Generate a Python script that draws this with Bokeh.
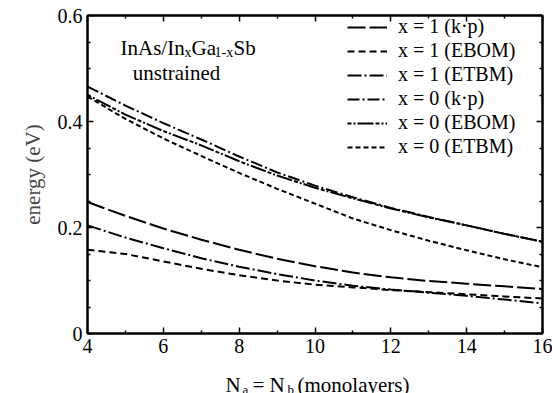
from bokeh.plotting import figure
from bokeh.layouts import column
from bokeh.models import (Range1d, LinearAxis, FixedTicker, CustomJSTickFormatter,
                          Label)
from bokeh.embed import file_html
from bokeh.resources import INLINE

# ---------------- data ----------------
N = [4, 5, 6, 7, 8, 9, 10, 11, 12, 13, 14, 15, 16]
x1_kp   = [0.248, 0.222, 0.198, 0.177, 0.158, 0.141, 0.127, 0.115, 0.106, 0.099, 0.094, 0.089, 0.084]
x1_ebom = [0.158, 0.150, 0.136, 0.122, 0.110, 0.100, 0.092, 0.087, 0.082, 0.078, 0.074, 0.070, 0.066]
x1_etbm = [0.204, 0.181, 0.161, 0.142, 0.126, 0.112, 0.100, 0.090, 0.083, 0.077, 0.071, 0.064, 0.057]
x0_kp   = [0.466, 0.430, 0.397, 0.366, 0.334, 0.304, 0.279, 0.257, 0.237, 0.220, 0.204, 0.188, 0.173]
x0_ebom = [0.450, 0.413, 0.382, 0.355, 0.325, 0.298, 0.275, 0.255, 0.236, 0.219, 0.204, 0.188, 0.173]
x0_etbm = [0.447, 0.405, 0.368, 0.335, 0.303, 0.273, 0.245, 0.217, 0.195, 0.175, 0.157, 0.140, 0.125]

series = [
    ("x = 1 (k\u00b7p)", x1_kp, "18 4"),
    ("x = 1 (EBOM)", x1_ebom, "7 4"),
    ("x = 1 (ETBM)", x1_etbm, "14 3 2 3"),
    ("x = 0 (k\u00b7p)", x0_kp, "12 3 2 3"),
    ("x = 0 (EBOM)", x0_ebom, "4 2 2 2 16 2"),
    ("x = 0 (ETBM)", x0_etbm, "5 3"),
]

x_ticks = [4, 6, 8, 10, 12, 14, 16]
x_minor = [5, 7, 9, 11, 13, 15]
y_ticks = [0, 0.2, 0.4, 0.6]
y_minor = [0.05, 0.1, 0.15, 0.25, 0.3, 0.35, 0.45, 0.5, 0.55]

FONT = "Liberation Serif"

p = figure(width=552, height=365, output_backend="svg", toolbar_location=None,
           x_range=Range1d(4, 16), y_range=Range1d(0, 0.6),
           min_border_left=87, min_border_right=10, min_border_top=15,
           min_border_bottom=32)
p.xgrid.visible = False
p.ygrid.visible = False
p.outline_line_color = "black"
p.outline_line_width = 2
p.background_fill_color = "white"
p.border_fill_color = "white"

for label, ys, dash in series:
    p.line(N, ys, line_color="black", line_width=2, line_dash=dash, legend_label=label)

ytick_fmt = CustomJSTickFormatter(code="return tick == 0 ? '0' : tick.toFixed(1);")
blank_fmt = CustomJSTickFormatter(code="return '';")

def style_axis(ax, ticks, minor, show_labels):
    ax.ticker = FixedTicker(ticks=ticks, minor_ticks=minor)
    ax.axis_line_width = 2
    ax.axis_line_color = "black"
    ax.major_tick_in = 6
    ax.major_tick_out = 0
    ax.minor_tick_in = 3
    ax.minor_tick_out = 0
    ax.major_tick_line_width = 1.5
    ax.minor_tick_line_width = 1.5
    ax.major_label_text_font = FONT
    ax.major_label_text_color = "black"
    ax.major_label_text_font_size = "20px"
    if show_labels:
        ax.major_label_standoff = 5
    else:
        ax.formatter = blank_fmt
        ax.major_label_standoff = 0

style_axis(p.xaxis[0], x_ticks, x_minor, True)
style_axis(p.yaxis[0], y_ticks, y_minor, True)
p.yaxis[0].formatter = ytick_fmt
p.yaxis[0].axis_label = "energy (eV)"
p.yaxis[0].axis_label_text_font = FONT
p.yaxis[0].axis_label_text_font_style = "normal"
p.yaxis[0].axis_label_text_font_size = "21px"
p.yaxis[0].axis_label_standoff = 10

rax = LinearAxis()
style_axis(rax, y_ticks, y_minor, False)
p.add_layout(rax, "right")
tax = LinearAxis()
style_axis(tax, x_ticks, x_minor, False)
p.add_layout(tax, "above")

# legend
lg = p.legend[0]
lg.location = (260, 175)
lg.border_line_alpha = 0
lg.background_fill_alpha = 0
lg.padding = 0
lg.margin = 0
lg.spacing = 1
lg.glyph_width = 40
lg.glyph_height = 20
lg.label_height = 20
lg.label_standoff = 11
lg.label_text_font = FONT
lg.label_text_font_size = "20px"
lg.label_text_color = "black"

def put(fig, conv, text, ix, iy, size, align="left"):
    x, y = conv(ix, iy)
    fig.add_layout(Label(x=x, y=y, text=text, text_font=FONT, text_font_size=size,
                         text_color="black", text_align=align,
                         text_baseline="alphabetic"))

# title block inside the frame, positioned in page pixels
def to_data(ix, iy):
    return 4 + (ix - 87) / 37.917, (333 - iy) / 530

put(p, to_data, "InAs/In", 120, 47, "21px")
put(p, to_data, "x", 184, 52, "14px")
put(p, to_data, "Ga", 191, 47, "21px")
put(p, to_data, "1-x", 214, 52, "14px")
put(p, to_data, "Sb", 233, 47, "21px")
put(p, to_data, "unstrained", 176, 72, "21px", align="center")

# x-axis title strip below the plot (keeps subscripts as real text);
# its frame lines up with the main frame, ranges are in page pixels
p2 = figure(frame_width=455, frame_height=28, output_backend="svg", toolbar_location=None,
            x_range=Range1d(87, 542), y_range=Range1d(393, 365),
            x_axis_type=None, y_axis_type=None,
            min_border_left=87, min_border_right=10, min_border_top=0, min_border_bottom=0)
p2.title = None
p2.outline_line_color = None
p2.xgrid.visible = False
p2.ygrid.visible = False
p2.background_fill_color = "white"
p2.border_fill_color = "white"

def same(ix, iy):
    return ix, iy

put(p2, same, "N", 225, 384, "21px")
put(p2, same, "a", 242, 389, "13px")
put(p2, same, "= N", 252, 384, "21px")
put(p2, same, "b", 287, 389, "13px")
put(p2, same, "(monolayers)", 297, 384, "21px")

layout = column(p, p2, spacing=0)
open("out.html", "w").write(file_html(layout, INLINE))
